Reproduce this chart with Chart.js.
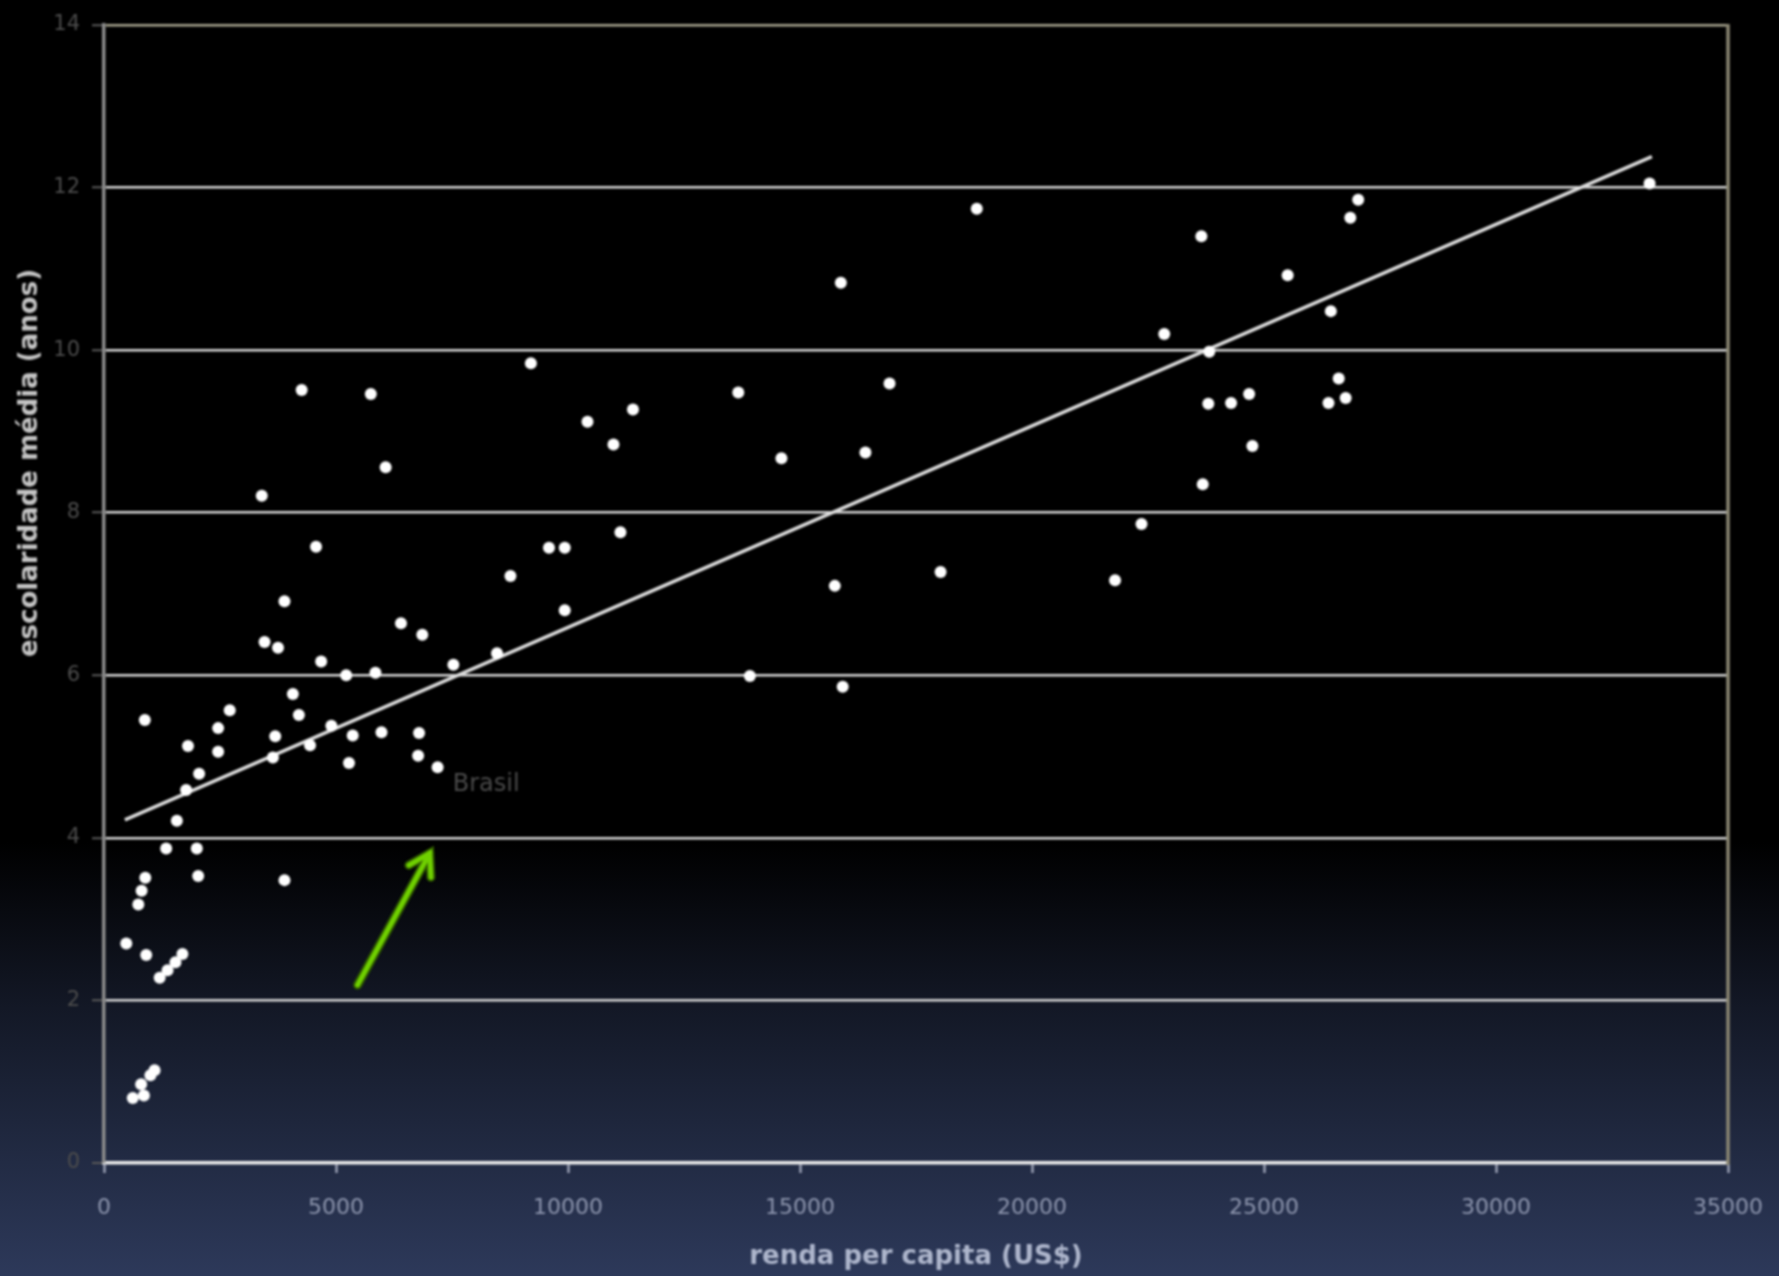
<!DOCTYPE html>
<html>
<head>
<meta charset="utf-8">
<script src="https://cdn.jsdelivr.net/npm/chart.js@4.4.1/dist/chart.umd.min.js"></script>
<style>
  html, body { margin: 0; padding: 0; }
  body {
    width: 1779px; height: 1276px; overflow: hidden;
    background: linear-gradient(to bottom, #000 0%, #000 66%, #131826 79%, #2d395a 100%);
  }
  #c { position: absolute; left: 0; top: 0; width: 1779px; height: 1276px; filter: blur(0.8px); }
</style>
</head>
<body>
<canvas id="c" width="1779" height="1276"></canvas>
<script>
// ---- data ----
const rendaPerCapita = [
  480, 910, 1200, 1370, 1540, 1690, 740, 810, 890, 880,
  1340, 1570, 1770, 1810, 2000, 2030, 2050, 2460, 2460, 2710,
  620, 860, 800, 1000, 1090,
  3400, 3460, 3750, 3640, 3690, 3890, 3890, 4070, 4200, 4260,
  4440, 4570, 4680, 4900, 5220, 5280, 5360, 5750, 5850, 5980,
  6070, 6400, 6790, 6770, 6860, 7190, 7530, 8470, 8760, 9200,
  9590, 9930, 9930, 10420, 10980, 11130, 11400, 13670, 13920, 14600,
  15750, 15880, 15920, 16410, 16930, 18030, 18810, 21790, 22360, 22850,
  23650, 23680, 23800, 23820, 24290, 24680, 24750, 25510, 26390, 26440,
  26610, 26760, 26860, 27030, 33310
];
const escolaridade = [
  2.70, 2.56, 2.28, 2.37, 2.47, 2.57, 3.18, 3.35, 3.51, 5.45,
  3.87, 4.21, 4.59, 5.13, 3.87, 3.53, 4.79, 5.06, 5.35, 5.57,
  0.80, 0.83, 0.97, 1.08, 1.14,
  8.21, 6.41, 6.34, 4.99, 5.25, 3.48, 6.91, 5.77, 5.51, 9.51,
  5.14, 7.58, 6.17, 5.38, 6.00, 4.92, 5.26, 9.46, 6.03, 5.30,
  8.56, 6.64, 5.29, 5.01, 6.50, 4.87, 6.13, 6.27, 7.22, 9.84,
  7.57, 7.57, 6.80, 9.12, 8.84, 7.76, 9.27, 9.48, 5.99, 8.67,
  7.10, 10.83, 5.86, 8.74, 9.59, 7.27, 11.74, 7.17, 7.86, 10.20,
  11.40, 8.35, 9.34, 9.98, 9.35, 9.46, 8.82, 10.92, 9.35, 10.48,
  9.65, 9.41, 11.63, 11.85, 12.05
];
const trendX = [450, 33360];
const trendY = [4.22, 12.38];
const xTicks = [0, 5000, 10000, 15000, 20000, 25000, 30000, 35000];
const yTicks = [0, 2, 4, 6, 8, 10, 12, 14];
const xTitle = 'renda per capita (US$)';
const yTitle = 'escolaridade média (anos)';
const brasilLabel = 'Brasil';
const brasilAt = [7516, 4.65];
const arrowFrom = [5464, 2.19];
const arrowTo = [7020, 3.81];

// ---- build datasets ----
const pts = rendaPerCapita.map((x, i) => ({ x: x, y: escolaridade[i] }));
const trend = trendX.map((x, i) => ({ x: x, y: trendY[i] }));

const decor = {
  id: 'decor',
  afterDatasetsDraw(chart) {
    const ctx = chart.ctx;
    const xs = chart.scales.x, ys = chart.scales.y;
    const a = chart.chartArea;
    ctx.save();
    // right border
    ctx.strokeStyle = '#8a8672';
    ctx.lineWidth = 3.5;
    ctx.beginPath();
    ctx.moveTo(a.right, a.top - 1);
    ctx.lineTo(a.right, a.bottom + 2);
    ctx.stroke();

    // Brasil label
    ctx.fillStyle = '#4a4a4a';
    ctx.font = '24px "DejaVu Sans"';
    ctx.textAlign = 'left';
    ctx.textBaseline = 'middle';
    ctx.fillText(brasilLabel, xs.getPixelForValue(brasilAt[0]), ys.getPixelForValue(brasilAt[1]));

    // green arrow
    const x0 = xs.getPixelForValue(arrowFrom[0]), y0 = ys.getPixelForValue(arrowFrom[1]);
    const x1 = xs.getPixelForValue(arrowTo[0]), y1 = ys.getPixelForValue(arrowTo[1]);
    const ang = Math.atan2(y1 - y0, x1 - x0);
    const hl = 24;
    const drawArrow = (color, w) => {
      ctx.strokeStyle = color;
      ctx.lineWidth = w;
      ctx.lineCap = 'round';
      ctx.lineJoin = 'miter';
      ctx.beginPath();
      ctx.moveTo(x0, y0);
      ctx.lineTo(x1, y1);
      ctx.stroke();
      ctx.beginPath();
      ctx.moveTo(x1 + hl * Math.cos(ang + Math.PI - 0.55), y1 + hl * Math.sin(ang + Math.PI - 0.55));
      ctx.lineTo(x1, y1);
      ctx.lineTo(x1 + hl * Math.cos(ang + Math.PI + 0.55), y1 + hl * Math.sin(ang + Math.PI + 0.55));
      ctx.stroke();
    };
    drawArrow('#2f5a00', 9);
    drawArrow('#6fd000', 5);

    // axis titles
    ctx.fillStyle = '#c4c4c4';
    ctx.font = 'bold 26px "DejaVu Sans"';
    ctx.textAlign = 'center';
    ctx.textBaseline = 'middle';
    ctx.save();
    ctx.translate(30, 463);
    ctx.rotate(-Math.PI / 2);
    ctx.fillText(yTitle, 0, 0);
    ctx.restore();

    ctx.fillStyle = '#aeb6cc';
    ctx.fillText(xTitle, (a.left + a.right) / 2, 1257);
    ctx.restore();
  }
};

new Chart(document.getElementById('c'), {
  type: 'scatter',
  data: {
    datasets: [
      {
        label: 'tendência',
        type: 'line',
        data: trend,
        showLine: true,
        borderColor: '#dcdcdc',
        borderWidth: 3.5,
        pointRadius: 0,
        fill: false,
        order: 2
      },
      {
        label: 'países',
        data: pts,
        backgroundColor: '#ffffff',
        borderColor: '#ffffff',
        borderWidth: 0,
        pointRadius: 6,
        pointHoverRadius: 6,
        order: 1
      }
    ]
  },
  options: {
    responsive: false,
    animation: false,
    devicePixelRatio: 1,
    maintainAspectRatio: false,
    layout: { padding: { top: 25, right: 51, left: 0, bottom: 0 } },
    plugins: { legend: { display: false }, tooltip: { enabled: false } },
    scales: {
      x: {
        type: 'linear',
        min: xTicks[0], max: xTicks[xTicks.length - 1],
        afterFit: (s) => { s.height = 113; s.paddingLeft = 0; s.paddingRight = 0; },
        ticks: {
          stepSize: xTicks[1] - xTicks[0],
          autoSkip: false,
          color: '#8e96ae',
          font: { family: 'DejaVu Sans', size: 22 },
          padding: 22,
          maxRotation: 0,
          callback: (v) => String(v)
        },
        grid: {
          drawOnChartArea: false,
          drawTicks: true,
          tickLength: 10,
          tickColor: '#9aa0b4',
          tickWidth: 2.5
        },
        border: { color: '#ececec', width: 3.5 }
      },
      y: {
        type: 'linear',
        min: yTicks[0], max: yTicks[yTicks.length - 1],
        afterFit: (s) => { s.width = 104; s.paddingTop = 0; s.paddingBottom = 0; },
        ticks: {
          stepSize: yTicks[1] - yTicks[0],
          autoSkip: false,
          color: '#4d4d4d',
          font: { family: 'DejaVu Sans', size: 21 },
          padding: 12,
          callback: (v) => String(v)
        },
        grid: {
          drawOnChartArea: true,
          drawTicks: true,
          tickLength: 12,
          color: (c) => (c.tick && c.tick.value === 14) ? '#a6a38e' : '#d6d6d6',
          lineWidth: (c) => (c.tick && c.tick.value === 0) ? 0 : 2.5,
          tickColor: '#5a5a5a',
          tickWidth: 2
        },
        border: { color: '#8c8c8c', width: 3.5 }
      }
    }
  },
  plugins: [decor]
});
</script>
</body>
</html>
